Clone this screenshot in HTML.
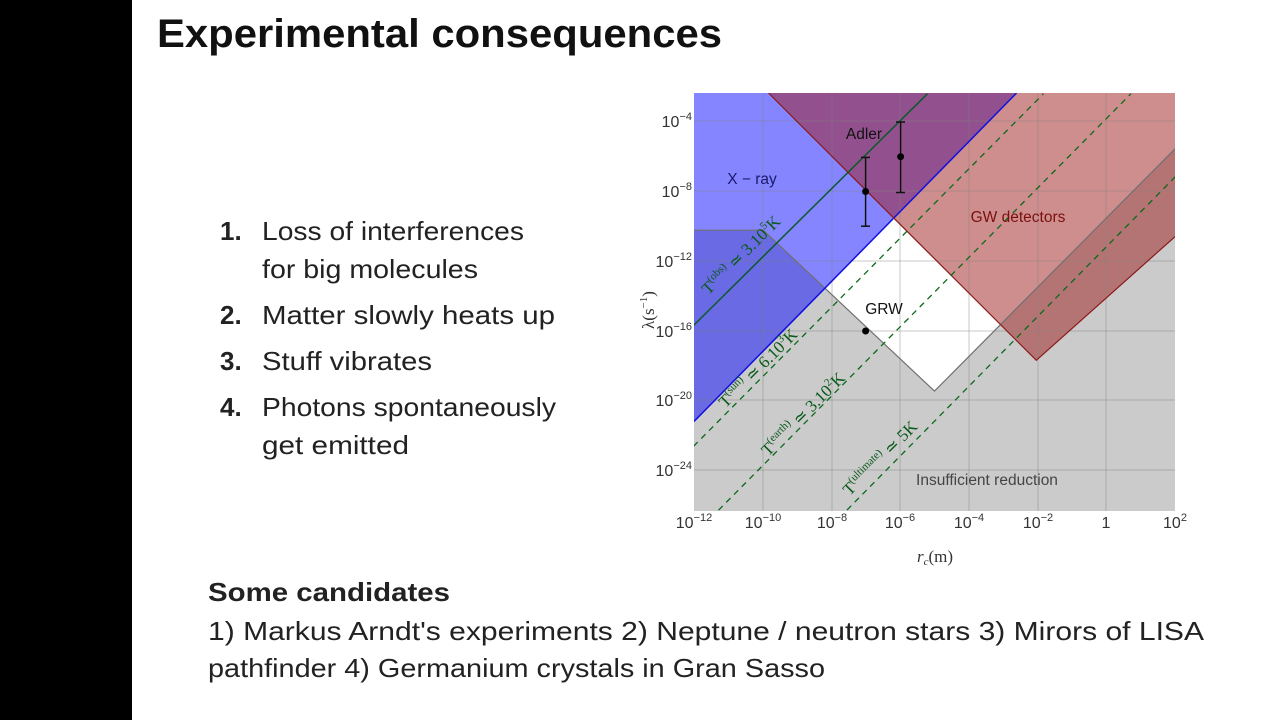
<!DOCTYPE html>
<html><head><meta charset="utf-8"><style>html,body{margin:0;padding:0;background:#fff}svg{display:block}</style></head>
<body>
<svg width="1280" height="720" viewBox="0 0 1280 720" xmlns="http://www.w3.org/2000/svg" font-family="Liberation Sans, sans-serif">
<rect width="1280" height="720" fill="#fff"/>
<rect x="0" y="0" width="132" height="720" fill="#000"/>
<text x="157" y="47" font-size="40" font-weight="600" fill="#111" textLength="565" lengthAdjust="spacingAndGlyphs">Experimental consequences</text>

<g font-size="26" fill="#222">
<text x="220" y="240" font-weight="bold">1.</text><text x="262" y="240" textLength="262" lengthAdjust="spacingAndGlyphs">Loss of interferences</text>
<text x="262" y="278" textLength="216" lengthAdjust="spacingAndGlyphs">for big molecules</text>
<text x="220" y="324" font-weight="bold">2.</text><text x="262" y="324" textLength="293" lengthAdjust="spacingAndGlyphs">Matter slowly heats up</text>
<text x="220" y="370" font-weight="bold">3.</text><text x="262" y="370" textLength="170" lengthAdjust="spacingAndGlyphs">Stuff vibrates</text>
<text x="220" y="416" font-weight="bold">4.</text><text x="262" y="416" textLength="294" lengthAdjust="spacingAndGlyphs">Photons spontaneously</text>
<text x="262" y="454" textLength="147" lengthAdjust="spacingAndGlyphs">get emitted</text>
<text x="208" y="601" font-weight="bold" textLength="242" lengthAdjust="spacingAndGlyphs">Some candidates</text>
<text x="208" y="640" textLength="996" lengthAdjust="spacingAndGlyphs">1) Markus Arndt's experiments 2) Neptune / neutron stars 3) Mirors of LISA</text>
<text x="208" y="677" textLength="617" lengthAdjust="spacingAndGlyphs">pathfinder 4) Germanium crystals in Gran Sasso</text>
</g>

<defs><clipPath id="c"><rect x="694" y="93" width="481" height="418"/></clipPath></defs>
<g clip-path="url(#c)">
<rect x="694" y="93" width="481" height="418" fill="#fff"/>
<polygon points="694,230.2 763.2,230.2 934.5,391.1 1175.5,148.4 1175.5,511 694,511" fill="#cbcbcb"/>
<polygon points="694,93 1016.6,93 694,421.5" fill="rgb(0,0,255)" fill-opacity="0.48"/>
<polygon points="768.5,93 1036.3,360.3 1175.5,236.2 1175.5,93" fill="rgb(160,30,30)" fill-opacity="0.5"/>
<g stroke="#808080" stroke-opacity="0.35" stroke-width="1.2">
<line x1="763" y1="93" x2="763" y2="511"/><line x1="832" y1="93" x2="832" y2="511"/><line x1="900" y1="93" x2="900" y2="511"/><line x1="969" y1="93" x2="969" y2="511"/><line x1="1038" y1="93" x2="1038" y2="511"/><line x1="1106" y1="93" x2="1106" y2="511"/>
<line x1="694" y1="121" x2="1175" y2="121"/><line x1="694" y1="191" x2="1175" y2="191"/><line x1="694" y1="261" x2="1175" y2="261"/><line x1="694" y1="331" x2="1175" y2="331"/><line x1="694" y1="400" x2="1175" y2="400"/><line x1="694" y1="470" x2="1175" y2="470"/>
</g>
<polyline points="694,230.2 763.2,230.2 934.5,391.1 1175.5,148.4" fill="none" stroke="#707070" stroke-width="1.2"/>
<line x1="694" y1="421.5" x2="1016.6" y2="93" stroke="#1010e0" stroke-width="1.5"/>
<polyline points="768.5,93 1036.3,360.3 1175.5,236.2" fill="none" stroke="#8b1a1a" stroke-width="1.2"/>
<line x1="693.5" y1="325.5" x2="927.4" y2="93.8" stroke="#0a5a2a" stroke-width="1.5"/>
<g stroke="#0a6a1a" stroke-width="1.3" stroke-dasharray="6,5">
<line x1="693.5" y1="446.3" x2="1043.4" y2="93.8"/>
<line x1="718.5" y1="510.2" x2="1130.9" y2="93.8"/>
<line x1="847" y1="510" x2="1175.5" y2="176.6"/>
</g>
<g stroke="#111" stroke-width="1.5">
<line x1="865.6" y1="157.4" x2="865.6" y2="226.2"/><line x1="861" y1="157.4" x2="870" y2="157.4"/><line x1="861" y1="226.2" x2="870" y2="226.2"/>
<line x1="900.6" y1="122" x2="900.6" y2="192.5"/><line x1="896" y1="122" x2="905" y2="122"/><line x1="896" y1="192.5" x2="905" y2="192.5"/>
</g>
<circle cx="865.6" cy="191.5" r="3.5" fill="#000"/><circle cx="900.6" cy="156.7" r="3.5" fill="#000"/><circle cx="865.6" cy="331" r="3.5" fill="#000"/>
</g>

<g font-size="15.5">
<text x="864" y="139" text-anchor="middle" fill="#111">Adler</text>
<text x="752" y="184" text-anchor="middle" fill="#1a1a6a">X − ray</text>
<text x="1018" y="222" text-anchor="middle" fill="#7a1010">GW detectors</text>
<text x="884" y="314" text-anchor="middle" fill="#111">GRW</text>
<text x="987" y="485" text-anchor="middle" fill="#444">Insufficient reduction</text>
</g>
<g font-family="Liberation Serif, serif" fill="#0a5a1a" font-size="17">
<text transform="translate(745,259) rotate(-45)" text-anchor="middle">T<tspan dy="-7" font-size="11">(obs)</tspan><tspan dy="7"> ≃ 3.10</tspan><tspan dy="-7" font-size="11">5</tspan><tspan dy="7">K</tspan></text>
<text transform="translate(762,372) rotate(-45)" text-anchor="middle">T<tspan dy="-7" font-size="11">(sun)</tspan><tspan dy="7"> ≃ 6.10</tspan><tspan dy="-7" font-size="11">3</tspan><tspan dy="7">K</tspan></text>
<text transform="translate(807,418) rotate(-45)" text-anchor="middle">T<tspan dy="-7" font-size="11">(earth)</tspan><tspan dy="7"> ≃ 3.10</tspan><tspan dy="-7" font-size="11">2</tspan><tspan dy="7">K</tspan></text>
<text transform="translate(884,462) rotate(-45)" text-anchor="middle">T<tspan dy="-7" font-size="11">(ultimate)</tspan><tspan dy="7"> ≃ 5K</tspan></text>
</g>

<g font-size="16" fill="#333" text-anchor="end">
<text x="692" y="127">10<tspan dy="-7" font-size="11">−4</tspan></text>
<text x="692" y="197">10<tspan dy="-7" font-size="11">−8</tspan></text>
<text x="692" y="267">10<tspan dy="-7" font-size="11">−12</tspan></text>
<text x="692" y="337">10<tspan dy="-7" font-size="11">−16</tspan></text>
<text x="692" y="406">10<tspan dy="-7" font-size="11">−20</tspan></text>
<text x="692" y="476">10<tspan dy="-7" font-size="11">−24</tspan></text>
</g>
<g font-size="16" fill="#333" text-anchor="middle">
<text x="694" y="528">10<tspan dy="-7" font-size="11">−12</tspan></text>
<text x="763" y="528">10<tspan dy="-7" font-size="11">−10</tspan></text>
<text x="832" y="528">10<tspan dy="-7" font-size="11">−8</tspan></text>
<text x="900" y="528">10<tspan dy="-7" font-size="11">−6</tspan></text>
<text x="969" y="528">10<tspan dy="-7" font-size="11">−4</tspan></text>
<text x="1038" y="528">10<tspan dy="-7" font-size="11">−2</tspan></text>
<text x="1106" y="528">1</text>
<text x="1175" y="528">10<tspan dy="-7" font-size="11">2</tspan></text>
</g>
<text x="935" y="562" text-anchor="middle" font-family="Liberation Serif, serif" font-size="17" fill="#333"><tspan font-style="italic">r</tspan><tspan font-style="italic" font-size="11" dy="3">c</tspan><tspan dy="-3">(m)</tspan></text>
<text transform="translate(654,310) rotate(-90)" text-anchor="middle" font-family="Liberation Serif, serif" font-size="17" fill="#333">λ(s<tspan dy="-7" font-size="11">−1</tspan><tspan dy="7">)</tspan></text>
</svg>
</body></html>
